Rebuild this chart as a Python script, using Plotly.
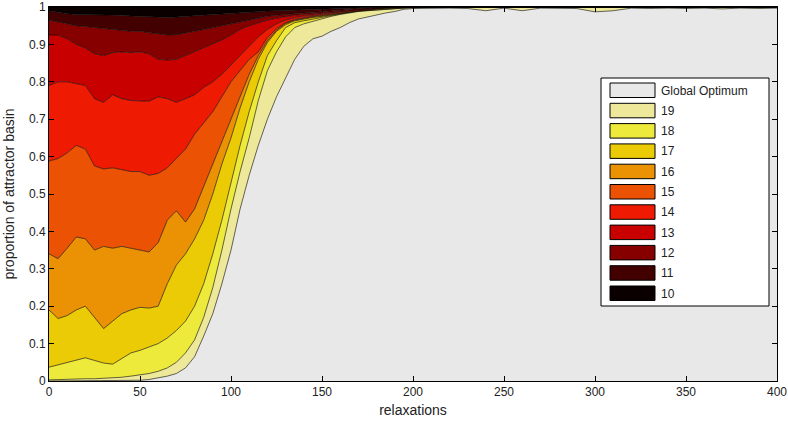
import numpy as np
import plotly.graph_objects as go

# relaxation counts where the basins were sampled
x_head = [0, 5, 10, 15, 20, 25, 30, 35, 40, 45, 50, 55, 60, 65, 70, 75, 80, 85, 90, 95,
          100, 105, 110, 115, 120, 125, 130, 135, 140, 145, 150, 155, 160, 165, 170, 175,
          180, 185, 190, 195, 200]
x_tail = [210, 220, 230, 240, 250, 260, 270, 280, 290, 300,
          310, 320, 330, 340, 350, 360, 370, 380, 390, 400]

# upper edge of each band (cumulative proportion)
top_go = [0, 0, 0, 0, 0, 0, 0, 0, 0.001, 0.001, 0.002, 0.004, 0.008, 0.013, 0.02, 0.035,
          0.065, 0.12, 0.18, 0.26, 0.35, 0.46, 0.55, 0.63, 0.70, 0.76, 0.81, 0.86, 0.895,
          0.915, 0.922, 0.935, 0.945, 0.958, 0.968, 0.974, 0.979, 0.984, 0.988, 0.994, 0.996]
top_19 = [0.003, 0.004, 0.005, 0.005, 0.006, 0.006, 0.007, 0.009, 0.01, 0.013, 0.016, 0.02,
          0.026, 0.035, 0.05, 0.075, 0.11, 0.17, 0.25, 0.35, 0.46, 0.56, 0.65, 0.75, 0.83,
          0.88, 0.92, 0.945, 0.955, 0.962, 0.968, 0.975, 0.98, 0.985, 0.988, 0.99, 0.992,
          0.994, 0.996, 0.997, 0.998]
top_18 = [0.037, 0.043, 0.048, 0.055, 0.062, 0.055, 0.048, 0.045, 0.06, 0.075, 0.082, 0.09,
          0.10, 0.115, 0.135, 0.16, 0.2, 0.26, 0.34, 0.43, 0.53, 0.63, 0.72, 0.8, 0.87,
          0.91, 0.945, 0.958, 0.963, 0.968, 0.972, 0.977, 0.982, 0.986, 0.989, 0.991, 0.993,
          0.995, 0.997, 0.998, 0.999]
top_17 = [0.19, 0.167, 0.175, 0.19, 0.2, 0.17, 0.14, 0.16, 0.18, 0.19, 0.197, 0.195, 0.2,
          0.26, 0.31, 0.34, 0.38, 0.43, 0.5, 0.58, 0.65, 0.73, 0.8, 0.86, 0.905, 0.935,
          0.953, 0.963, 0.968, 0.972, 0.975, 0.979, 0.983, 0.987, 0.99, 0.992, 0.994, 0.996,
          0.998, 0.999, 1]
top_16 = [0.34, 0.327, 0.355, 0.385, 0.38, 0.35, 0.36, 0.355, 0.36, 0.355, 0.35, 0.345, 0.37,
          0.43, 0.455, 0.425, 0.46, 0.52, 0.58, 0.64, 0.7, 0.76, 0.82, 0.87, 0.91, 0.938,
          0.956, 0.965, 0.97, 0.974, 0.977, 0.98, 0.984, 0.988, 0.991, 0.993, 0.995, 0.997,
          0.998, 0.999, 1]
top_15 = [0.588, 0.595, 0.61, 0.63, 0.62, 0.575, 0.567, 0.57, 0.565, 0.56, 0.56, 0.55, 0.555,
          0.57, 0.595, 0.62, 0.66, 0.69, 0.72, 0.76, 0.8, 0.83, 0.86, 0.88, 0.918, 0.942,
          0.958, 0.967, 0.972, 0.976, 0.979, 0.982, 0.986, 0.989, 0.992, 0.994, 0.996, 0.998,
          0.999, 1, 1]
top_14 = [0.79, 0.8, 0.8, 0.795, 0.79, 0.755, 0.745, 0.765, 0.755, 0.75, 0.75, 0.748, 0.76,
          0.755, 0.745, 0.755, 0.765, 0.785, 0.8, 0.82, 0.845, 0.87, 0.895, 0.92, 0.94,
          0.955, 0.965, 0.972, 0.976, 0.979, 0.982, 0.985, 0.988, 0.99, 0.993, 0.995, 0.997,
          0.998, 0.999, 1, 1]
top_13 = [0.925, 0.925, 0.915, 0.9, 0.89, 0.875, 0.87, 0.878, 0.88, 0.878, 0.88, 0.875, 0.86,
          0.858, 0.86, 0.87, 0.88, 0.89, 0.9, 0.912, 0.925, 0.94, 0.95, 0.958, 0.965, 0.97,
          0.975, 0.978, 0.98, 0.982, 0.985, 0.987, 0.99, 0.992, 0.994, 0.996, 0.998, 0.999,
          1, 1, 1]
top_12 = [0.965, 0.96, 0.955, 0.95, 0.948, 0.945, 0.942, 0.94, 0.937, 0.935, 0.935, 0.932,
          0.928, 0.925, 0.926, 0.93, 0.935, 0.94, 0.945, 0.95, 0.955, 0.962, 0.967, 0.97,
          0.975, 0.978, 0.98, 0.982, 0.984, 0.986, 0.988, 0.99, 0.992, 0.994, 0.996, 0.997,
          0.999, 0.999, 1, 1, 1]
top_11 = [0.99, 0.985, 0.982, 0.98, 0.98, 0.979, 0.978, 0.978, 0.978, 0.976, 0.975, 0.974,
          0.972, 0.972, 0.973, 0.975, 0.977, 0.979, 0.98, 0.981, 0.983, 0.985, 0.987, 0.988,
          0.989, 0.99, 0.991, 0.992, 0.993, 0.994, 0.995, 0.996, 0.997, 0.998, 0.998, 0.999,
          0.999, 1, 1, 1, 1]
# after 200 relaxations only the global optimum and a sliver of 19 remain
go_tail = [0.997, 0.997, 0.996, 0.99, 0.997, 0.99, 0.997, 0.997, 0.996, 0.987,
           0.99, 0.997, 0.996, 0.997, 0.996, 0.997, 0.995, 0.997, 0.996, 0.997]

names = ["Global Optimum", "19", "18", "17", "16", "15", "14", "13", "12", "11", "10"]
colors = ["#e8e8e8", "#eee89a", "#eeea3c", "#eacb06", "#ea9204", "#ec5204",
          "#ee1a02", "#c80000", "#860000", "#420000", "#0a0000"]

x = x_head + x_tail
n_tail = len(x_tail)
heads = [top_go, top_19, top_18, top_17, top_16, top_15, top_14, top_13, top_12, top_11]
edges = [np.zeros(len(x))]
for i, h in enumerate(heads):
    tail = go_tail if i == 0 else [1.0] * n_tail
    edges.append(np.array(h + tail, dtype=float))
edges.append(np.ones(len(x)))
layers = np.diff(np.vstack(edges), axis=0)

fig = go.Figure()
for name, col, vals in zip(names, colors, layers):
    fig.add_trace(go.Scatter(x=x, y=vals, name=name, mode="lines", stackgroup="one",
                             fillcolor=col, line=dict(color="black", width=0.6),
                             showlegend=False))

# MATLAB-style legend box: swatches + labels (pixel layout -> paper coords)
L, T, W, H = 49, 7, 728, 374
px = lambda v: (v - L) / W
py = lambda v: (T + H - v) / H
shapes = [dict(type="rect", xref="paper", yref="paper", x0=px(601), x1=px(769),
               y0=py(306), y1=py(78), fillcolor="white", line=dict(color="black", width=1),
               layer="above")]
annotations = []
for i, (name, col) in enumerate(zip(names, colors)):
    top = 83 + 20.3 * i
    shapes.append(dict(type="rect", xref="paper", yref="paper", x0=px(610), x1=px(655),
                       y0=py(top + 14.5), y1=py(top), fillcolor=col,
                       line=dict(color="black", width=1), layer="above"))
    annotations.append(dict(text=name, xref="paper", yref="paper", x=px(659),
                            y=py(top + 7.5), xanchor="left", yanchor="middle",
                            showarrow=False, font=dict(size=12, color="#222")))

font = "Liberation Sans, Arial, sans-serif"
fig.update_layout(
    width=788, height=423,
    margin=dict(l=L, r=788 - L - W, t=T, b=423 - T - H, autoexpand=False),
    paper_bgcolor="white", plot_bgcolor="white",
    font=dict(family=font, size=12, color="#222"),
    showlegend=False, shapes=shapes, annotations=annotations,
    xaxis=dict(range=[0, 400], tickvals=[0, 50, 100, 150, 200, 250, 300, 350, 400],
               ticks="inside", ticklen=5, tickcolor="black", showline=True,
               linecolor="black", linewidth=1, mirror="ticks", showgrid=False,
               zeroline=False, tickfont=dict(size=12), automargin=False,
               ticklabeloverflow="allow",
               title=dict(text="relaxations", font=dict(size=14), standoff=6)),
    yaxis=dict(range=[0, 1], tickvals=[0, 0.1, 0.2, 0.3, 0.4, 0.5, 0.6, 0.7, 0.8, 0.9, 1],
               ticktext=["0", "0.1", "0.2", "0.3", "0.4", "0.5", "0.6", "0.7", "0.8", "0.9", "1"],
               ticks="inside", ticklen=5, tickcolor="black", showline=True,
               linecolor="black", linewidth=1, mirror="ticks", showgrid=False,
               zeroline=False, tickfont=dict(size=12), automargin=False,
               ticklabeloverflow="allow",
               title=dict(text="proportion of attractor basin", font=dict(size=14), standoff=11)),
)

fig.write_html("out.html", config={"displayModeBar": False},
               post_script="document.body.style.margin='0px';")
